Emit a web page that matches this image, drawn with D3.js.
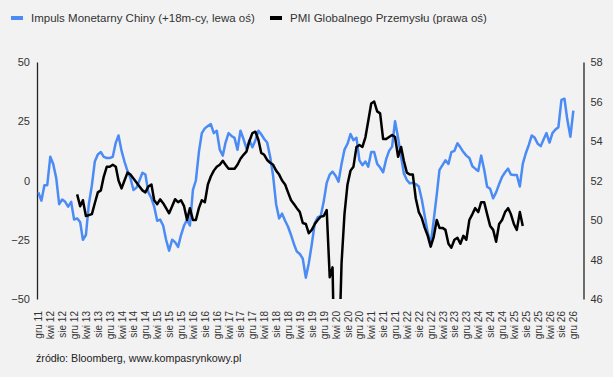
<!DOCTYPE html>
<html>
<head>
<meta charset="utf-8">
<script src="https://cdn.jsdelivr.net/npm/d3@7"></script>
<style>
    body { margin: 0; background: #f2f2f2; }
    svg { font-family: Arial, "Liberation Sans", sans-serif; }
</style>
</head>
<body>
<svg id="chart"></svg>
<script>
// impuls monetarny Chiny (+18m), co miesiac od gru 2011
const impulsStart = new Date(2011, 11, 1);
const impulsValues = [
    -5, -8.5, -2, -2, 10, 7, 1, -10, -8, -9, -11, -9,
    -16.5, -16, -17.5, -25, -23, -10, -2, 8, 11, 12, 10, 9.5,
    9.5, 10, 16, 19, 12.5, 8, 4, 1, -4, -3, 0, 3.3,
    2.5, -5, -7.5, -11, -17, -16.5, -19, -25, -29.6, -25, -26, -28,
    -23, -19, -16.6, -19, -4, 0, 12, 20, 22, 23, 23.8, 20,
    21, 13, 10.5, 16, 20, 18.8, 18, 13, 21, 17.5, 13.5, 17,
    14, 17, 21, 19.5, 17.5, 16, 10, 2, -10, -16, -14, -17,
    -19.5, -23, -27, -30, -31, -33, -41, -35, -27, -18, -15.5, -15,
    -9, -1, 2.5, 3.7, 2, -0.5, 7, 13, 15.5, 19.6, 17, 18,
    8.5, 6.5, 8, 5.8, 12, 12, 7, 5.5, 3.5, 9, 12.5, 14.3,
    25, 18, 10, 3, 0.2, -1.2, -1, -1.5, -2.5, -8, -15, -22,
    -26.8, -16.7, -6, 4.5, 6.5, 8.5, 7, 12, 12.5, 15.7, 14, 12,
    10.5, 9.5, 6, 5, 4, 10.5, 4.5, -2.6, -3.5, -7.5, -5, -1.5,
    1.5, 3.5, 5, 2.5, 2.3, 2.3, -2.5, 7, 11.5, 15, 19, 18,
    15.5, 14.5, 17.5, 20, 16, 20, 21.5, 22.5, 34, 34.5, 25.5, 18.5,
    29.5
];

// PMI globalnego przemyslu, co miesiac od sty 2013
const pmiStart = new Date(2013, 0, 1);
const pmiValues = [
    51.3, 50.7, 51.0, 50.2, 50.25, 50.3, 50.85, 51.4, 51.5, 52.2, 52.7, 52.7,
    52.8, 52.7, 52.0, 51.6, 52.0, 52.4, 52.3, 52.1, 51.9, 51.7, 51.5, 51.4,
    51.7, 51.8, 51.0, 50.8, 51.05, 50.85, 50.6, 50.34, 50.7, 51.05, 50.9, 51.0,
    50.7, 50.0, 50.6, 50.0, 50.0, 50.6, 51.0, 50.9, 51.8, 52.2, 52.5, 52.7,
    52.8, 53.0, 52.8, 52.6, 52.6, 52.6, 52.8, 53.1, 53.3, 53.46, 54.0, 54.4,
    54.47, 54.05, 53.4, 53.3, 53.04, 52.9, 52.8, 52.5, 52.3, 52.0, 51.8, 51.4,
    51.0, 50.8, 50.6, 50.4, 49.85, 49.8, 49.33, 49.5, 49.8, 50.0, 50.17, 50.2,
    50.5, 47.1, 47.6, 39.6, 42.4, 47.8, 50.3, 51.8, 52.5, 52.7, 53.7, 53.8,
    53.7, 54.2, 55.0, 55.9, 56.0, 55.5, 55.4, 54.1, 54.1, 54.2, 54.3, 54.2,
    53.2, 53.7, 53.0, 52.4, 52.3, 52.3, 51.1, 50.4, 50.1, 49.6, 49.2, 48.65,
    49.15, 50.0, 49.6, 49.6, 49.5, 48.8, 48.6, 49.0, 49.1, 48.8, 49.2, 49.0,
    50.0, 50.3, 50.6, 50.4, 50.9, 50.9, 50.3, 49.7, 49.5, 48.9, 49.8, 50.0,
    50.4, 50.6, 50.3, 49.8, 49.5, 50.4, 49.7
];

const leftTicks = [50, 25, 0, -25, -50];
const rightTicks = [58, 56, 54, 52, 50, 48, 46];
const polishMonths = ['sty', 'lut', 'mar', 'kwi', 'maj', 'cze', 'lip', 'sie', 'wrz', 'paź', 'lis', 'gru'];
const labelCount = 46;
const legendItems = [
    { label: 'Impuls Monetarny Chiny (+18m-cy, lewa oś)', color: '#4b8bf5' },
    { label: 'PMI Globalnego Przemysłu (prawa oś)', color: '#000' }
];
const sourceText = 'źródło: Bloomberg, www.kompasrynkowy.pl';

const chartSize = { width: 613, height: 377 };
const plot = { left: 37, right: 583.5, top: 62, bottom: 299 };

const toSeries = (start, values) =>
    values.map((v, i) => ({ date: d3.timeMonth.offset(start, i), value: v }));

const drawChart = () => {
    const svg = d3.select('#chart')
        .attr('width', chartSize.width)
        .attr('height', chartSize.height);

    const x = d3.scaleTime()
        .domain([new Date(2011, 10, 17), new Date(2027, 2, 15)])
        .range([plot.left, plot.right]);
    const yLeft = d3.scaleLinear().domain([-50, 50]).range([plot.bottom, plot.top]);
    const yRight = d3.scaleLinear().domain([46, 58]).range([plot.bottom, plot.top]);

    svg.append('clipPath').attr('id', 'plot-clip')
        .append('rect')
        .attr('x', plot.left)
        .attr('y', plot.top - 5)
        .attr('width', plot.right - plot.left)
        .attr('height', plot.bottom - plot.top + 5);

    // osie
    const leftAxis = svg.append('g')
        .attr('transform', `translate(${plot.left},0)`)
        .call(d3.axisLeft(yLeft).tickValues(leftTicks).tickSize(0).tickSizeOuter(0).tickPadding(7));
    const rightAxis = svg.append('g')
        .attr('transform', `translate(${plot.right},0)`)
        .call(d3.axisRight(yRight).tickValues(rightTicks).tickSize(0).tickSizeOuter(0).tickPadding(7));
    [leftAxis, rightAxis].forEach(a => {
        a.select('.domain').attr('stroke', '#222').attr('stroke-width', 1.3);
        a.selectAll('text').attr('font-size', 11).attr('fill', '#333').attr('font-family', null);
    });

    const labelDates = d3.range(labelCount).map(i => d3.timeMonth.offset(impulsStart, 4 * i));
    const xAxis = svg.append('g')
        .attr('transform', `translate(0,${plot.bottom})`)
        .call(d3.axisBottom(x)
            .tickValues(labelDates)
            .tickSize(0)
            .tickFormat(d => `${polishMonths[d.getMonth()]} ${String(d.getFullYear()).slice(2)}`));
    xAxis.select('.domain').remove();
    xAxis.selectAll('text')
        .attr('font-size', 10)
        .attr('font-family', null)
        .attr('fill', '#333')
        .attr('transform', 'rotate(-90)')
        .attr('text-anchor', 'end')
        .attr('x', -12)
        .attr('y', 0)
        .attr('dy', '0.35em');

    // linie
    const impuls = toSeries(impulsStart, impulsValues);
    const pmi = toSeries(pmiStart, pmiValues);

    const lines = svg.append('g').attr('clip-path', 'url(#plot-clip)');
    lines.append('path')
        .datum(impuls)
        .attr('fill', 'none')
        .attr('stroke', legendItems[0].color)
        .attr('stroke-width', 2.5)
        .attr('stroke-linejoin', 'round')
        .attr('d', d3.line().x(d => x(d.date)).y(d => yLeft(d.value)));
    lines.append('path')
        .datum(pmi)
        .attr('fill', 'none')
        .attr('stroke', legendItems[1].color)
        .attr('stroke-width', 2.5)
        .attr('stroke-linejoin', 'round')
        .attr('d', d3.line().x(d => x(d.date)).y(d => yRight(d.value)));

    // legenda
    const legendX = [11, 270];
    const legend = svg.append('g').selectAll('g')
        .data(legendItems)
        .enter()
        .append('g')
        .attr('transform', (d, i) => `translate(${legendX[i]},18)`);
    legend.append('rect')
        .attr('x', 0).attr('y', -2)
        .attr('width', 12).attr('height', 4)
        .attr('fill', d => d.color);
    legend.append('text')
        .attr('x', 20)
        .attr('dy', '0.35em')
        .attr('font-size', 11.5)
        .attr('fill', '#333')
        .text(d => d.label);

    svg.append('text')
        .attr('x', 36)
        .attr('y', 362)
        .attr('font-size', 10.7)
        .attr('fill', '#222')
        .text(sourceText);
};

drawChart();
</script>
</body>
</html>
